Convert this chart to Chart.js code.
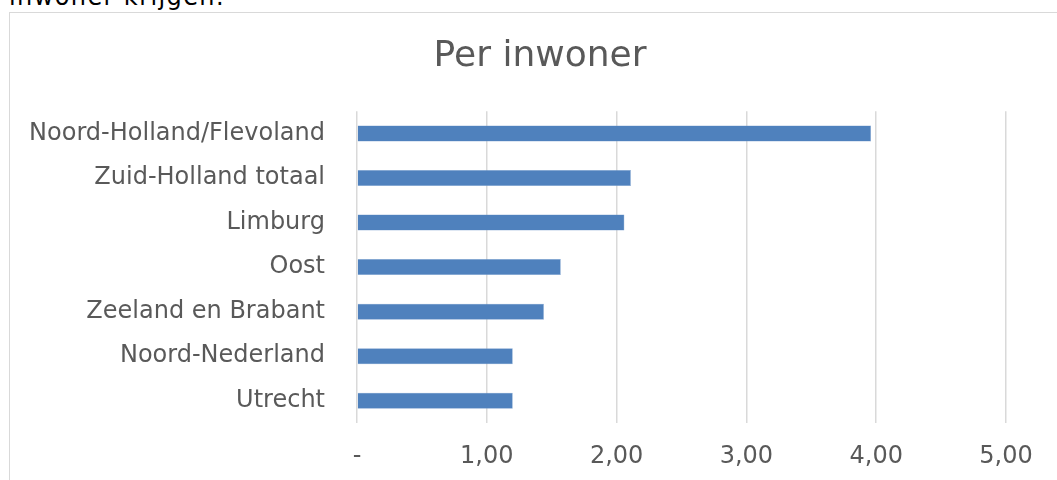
<!DOCTYPE html>
<html>
<head>
<meta charset="utf-8">
<script src="https://cdn.jsdelivr.net/npm/chart.js@4/dist/chart.umd.min.js"></script>
<style>
  html, body { margin: 0; padding: 0; background: #fff; overflow: hidden; }
  #lead { position: absolute; left: 9px; top: -17px; font-family: "DejaVu Sans", sans-serif; font-size: 24px; line-height: 28px; letter-spacing: 1.4px; color: #000; white-space: nowrap; }
  #box { position: absolute; left: 9px; top: 12px; width: 1062px; height: 500px; border: 1px solid #d9d9d9; box-sizing: border-box; }
</style>
</head>
<body>
<div id="lead">inwoner krijgen.</div>
<div id="box"><canvas id="myChart" width="1060" height="498"></canvas></div>
<script>
// regions and value per inwoner
var regions = ["Noord-Holland/Flevoland", "Zuid-Holland totaal", "Limburg", "Oost",
               "Zeeland en Brabant", "Noord-Nederland", "Utrecht"];
var perInwoner = [3.96, 2.11, 2.06, 1.57, 1.44, 1.20, 1.20];
var xTicks = [0, 1, 2, 3, 4, 5];

var grey = "#595959";

// title sits in the middle of the whole box, not of the padded area
var centreTitle = {
    id: "centreTitle",
    afterLayout: function (chart) {
        if (chart.titleBlock) {
            chart.titleBlock.left = 0;
            chart.titleBlock.right = chart.width;
        }
    }
};

var ctx = document.getElementById("myChart").getContext("2d");
var myChart = new Chart(ctx, {
    type: "bar",
    data: {
        labels: regions,
        datasets: [{
            label: "Per inwoner",
            data: perInwoner,
            backgroundColor: "#4f81bd",
            borderColor: "#7ea1cf",
            borderWidth: 0.5,
            barPercentage: 1,
            categoryPercentage: 0.36
        }]
    },
    options: {
        indexAxis: "y",
        responsive: false,
        animation: false,
        layout: { padding: { top: 22, right: 64, bottom: 0, left: 14 } },
        plugins: {
            legend: { display: false },
            tooltip: { enabled: false },
            title: {
                display: true,
                text: "Per inwoner",
                color: grey,
                font: { family: "DejaVu Sans", size: 36, weight: "normal" },
                padding: { top: 0, bottom: 33 }
            }
        },
        scales: {
            x: {
                min: xTicks[0],
                max: xTicks[xTicks.length - 1],
                afterBuildTicks: function (axis) {
                    axis.ticks = xTicks.map(function (v) { return { value: v }; });
                },
                afterFit: function (axis) { axis.height = 88; },
                grid: { color: "#d9d9d9", lineWidth: 1.5, drawTicks: false },
                border: { display: false },
                ticks: {
                    color: grey,
                    padding: 19,
                    font: { family: "DejaVu Sans", size: 24 },
                    callback: function (v) {
                        if (v === 0) return "-";
                        return v.toFixed(2).replace(".", ",");
                    }
                }
            },
            y: {
                afterFit: function (axis) { axis.width = 333; },
                grid: { display: false, drawTicks: false },
                border: { display: false },
                ticks: {
                    color: grey,
                    padding: 32,
                    font: { family: "DejaVu Sans", size: 24 }
                }
            }
        }
    },
    plugins: [centreTitle]
});
</script>
</body>
</html>
